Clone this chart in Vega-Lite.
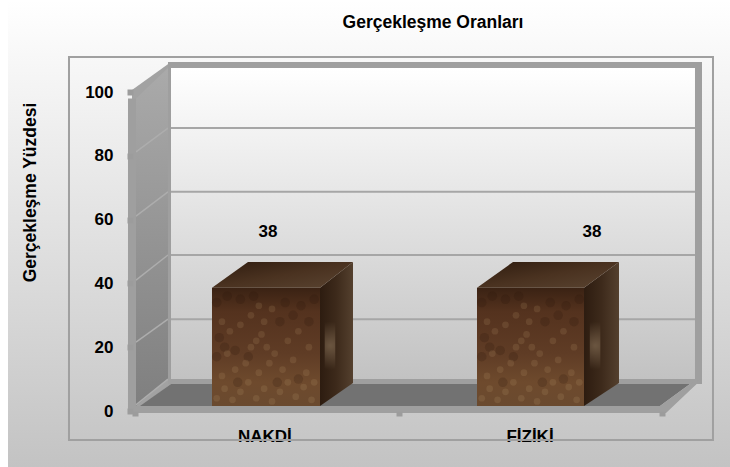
{
"$schema":"https://vega.github.io/schema/vega-lite/v6.json",
"width":527,"height":319,
"autosize":{"type":"none"},
"padding":{"left":135,"right":68,"top":92,"bottom":56},
"background":"white",
"config":{"view":{"stroke":null}},
"title":{"text":"Gerçekleşme Oranları","font":"Liberation Sans","fontSize":17.5,"fontWeight":"bold","color":"#000000","frame":"group","anchor":"middle","baseline":"alphabetic","dx":34.5,"offset":-45},
"encoding":{
 "x":{"field":"x","type":"quantitative","scale":{"domain":[0,2],"nice":false,"zero":false},
  "axis":{"values":[0,1,2],"labels":false,"domain":false,"grid":false,"title":null,"tickColor":"#9c9c9c","tickWidth":6,"tickSize":5,"zindex":1}},
 "y":{"field":"y","type":"quantitative","scale":{"domain":[0,100],"nice":false,"zero":false},
  "axis":{"values":[0,20,40,60,80,100],"domain":false,"grid":false,"offset":2,"tickColor":"#9c9c9c","tickWidth":6,"tickSize":6,"labelFont":"Liberation Sans","labelFontSize":17,"labelFontWeight":"bold","labelColor":"#000000","labelPadding":14,"title":"Gerçekleşme Yüzdesi","titleFont":"Liberation Sans","titleFontSize":17.5,"titleFontWeight":"bold","titleColor":"#000000","titleX":-94,"titleY":100,"zindex":1}}
},
"layer":[
 {"data":{"values":[{"x":-0.482,"x2":2.2581,"y":128.8,"y2":-17.55}]},
  "mark":{"type":"rect","color":{"gradient":"linear","x1":0,"y1":0,"x2":0,"y2":1,"stops":[{"offset":0,"color":"#ffffff"},{"offset":1,"color":"#c3c3c3"}]}},
  "encoding":{"x2":{"field":"x2"},"y2":{"field":"y2"}}},
 {"data":{"values":[{"x":0.1252,"x2":2.1252,"y":107.5,"y2":10}]},
  "mark":{"type":"rect","color":{"gradient":"linear","x1":0,"y1":0,"x2":0,"y2":1,"stops":[{"offset":0,"color":"#ffffff"},{"offset":1,"color":"#c2c2c2"}]}},
  "encoding":{"x2":{"field":"x2"},"y2":{"field":"y2"}}},
 {"data":{"values":[{"x":0.1366,"x2":2.1252,"y":88.7},{"x":0.1366,"x2":2.1252,"y":68.7},{"x":0.1366,"x2":2.1252,"y":48.9},{"x":0.1366,"x2":2.1252,"y":28.8}]},
  "mark":{"type":"rule","color":"#a6a6a6","strokeWidth":2},
  "encoding":{"x2":{"field":"x2"}}},
 {"data":{"values":[{"x":-0.0114,"y":100.6,"y2":-0.63},{"x":0.1366,"y":109.4,"y2":8.46}]},
  "mark":{"type":"area","color":"#a2a2a2"},
  "encoding":{"y2":{"field":"y2"}}},
 {"data":{"values":[{"x":0.0038,"y":98,"y2":1.57},{"x":0.1252,"y":107.5,"y2":10}]},
  "mark":{"type":"area","color":{"gradient":"linear","x1":0,"y1":0,"x2":0,"y2":1,"stops":[{"offset":0,"color":"#aaaaaa"},{"offset":1,"color":"#7f7f7f"}]}},
  "encoding":{"y2":{"field":"y2"}}},
 {"data":{"values":[{"x":0.0038,"x2":0.1252,"y":81.2,"y2":88.7},{"x":0.0038,"x2":0.1252,"y":61.1,"y2":68.7},{"x":0.0038,"x2":0.1252,"y":41,"y2":48.9},{"x":0.0038,"x2":0.1252,"y":21.6,"y2":28.8},{"x":0.0038,"x2":0.1252,"y":1.9,"y2":10}]},
  "mark":{"type":"rule","color":"#adadad","strokeWidth":1.5},
  "encoding":{"x2":{"field":"x2"},"y2":{"field":"y2"}}},
 {"data":{"values":[{"x":0.1252,"x2":2.1518,"y":107.5,"y2":109.4},{"x":2.1252,"x2":2.1518,"y":10,"y2":109.4},{"x":0.1252,"x2":2.1518,"y":8.46,"y2":10},{"x":0.1252,"x2":0.1366,"y":10,"y2":107.5},{"x":-0.0266,"x2":2.0152,"y":-0.63,"y2":1.57},{"x":-0.0266,"x2":0.0038,"y":-0.63,"y2":98}]},
  "mark":{"type":"rect","color":"#9f9f9f"},
  "encoding":{"x2":{"field":"x2"},"y2":{"field":"y2"}}},
 {"data":{"values":[{"x":0.019,"x2":1.9924,"y":1.57},{"x":0.1366,"x2":2.1063,"y":8.46}]},
  "mark":{"type":"area","orient":"horizontal","color":"#727272"},
  "encoding":{"x2":{"field":"x2"}}},
 {"data":{"values":[{"x":1.9924,"y":1.57,"y2":1.57},{"x":2.0152,"y":2.95,"y2":-0.63},{"x":2.1063,"y":8.46,"y2":6.49},{"x":2.1518,"y":10.03,"y2":10.03}]},
  "mark":{"type":"area","color":"#9f9f9f"},
  "encoding":{"y2":{"field":"y2"}}},
 {"data":{"values":[{"category":"NAKDİ","x":0.2922,"x2":0.7021,"y":38,"y2":1.57},{"category":"FİZİKİ","x":1.2979,"x2":1.704,"y":38,"y2":1.57}]},
  "mark":{"type":"rect","yOffset":-2,"color":{"gradient":"linear","x1":0,"y1":0,"x2":0,"y2":1,"stops":[{"offset":0,"color":"#3a2213"},{"offset":0.2,"color":"#54321e"},{"offset":0.55,"color":"#5f3c25"},{"offset":0.8,"color":"#6e4a2d"},{"offset":1,"color":"#6a4a2f"}]}},
  "encoding":{"x2":{"field":"x2"},"y2":{"field":"y2"}}},
 {"data":{"values":[{"x":0.31,"y":17},{"x":0.34,"y":20},{"x":0.32,"y":23},{"x":0.38,"y":19},{"x":0.55,"y":28},{"x":0.6,"y":30},{"x":0.63,"y":33},{"x":0.57,"y":34},{"x":0.66,"y":28},{"x":0.31,"y":34},{"x":0.35,"y":36},{"x":0.4,"y":35},{"x":0.68,"y":35},{"x":0.45,"y":36},{"x":0.43,"y":17},{"x":0.54,"y":9},{"x":0.39,"y":9},{"x":0.62,"y":10},{"x":1.316,"y":17},{"x":1.346,"y":20},{"x":1.326,"y":23},{"x":1.386,"y":19},{"x":1.556,"y":28},{"x":1.606,"y":30},{"x":1.636,"y":33},{"x":1.576,"y":34},{"x":1.666,"y":28},{"x":1.316,"y":34},{"x":1.356,"y":36},{"x":1.406,"y":35},{"x":1.686,"y":35},{"x":1.456,"y":36},{"x":1.436,"y":17},{"x":1.546,"y":9},{"x":1.396,"y":9},{"x":1.626,"y":10}]},
  "mark":{"type":"circle","size":90,"opacity":0.2,"color":"#2a140a"}},
 {"data":{"values":[{"x":0.31,"y":4},{"x":0.34,"y":7},{"x":0.37,"y":3.5},{"x":0.4,"y":6},{"x":0.43,"y":9},{"x":0.46,"y":4},{"x":0.49,"y":7},{"x":0.52,"y":3},{"x":0.55,"y":6},{"x":0.58,"y":9},{"x":0.61,"y":4.5},{"x":0.64,"y":7.5},{"x":0.67,"y":3.5},{"x":0.33,"y":11},{"x":0.38,"y":13},{"x":0.42,"y":15},{"x":0.47,"y":12},{"x":0.51,"y":15},{"x":0.56,"y":13},{"x":0.6,"y":16},{"x":0.65,"y":12},{"x":0.68,"y":9},{"x":0.35,"y":18},{"x":0.44,"y":20},{"x":0.48,"y":24},{"x":0.49,"y":28},{"x":0.46,"y":22},{"x":0.5,"y":20},{"x":0.53,"y":18},{"x":0.58,"y":22},{"x":0.62,"y":25},{"x":0.4,"y":27},{"x":0.36,"y":25},{"x":0.52,"y":32},{"x":0.47,"y":33},{"x":0.44,"y":30},{"x":0.33,"y":28},{"x":0.66,"y":20},{"x":1.316,"y":4},{"x":1.346,"y":7},{"x":1.376,"y":3.5},{"x":1.406,"y":6},{"x":1.436,"y":9},{"x":1.466,"y":4},{"x":1.496,"y":7},{"x":1.526,"y":3},{"x":1.556,"y":6},{"x":1.586,"y":9},{"x":1.616,"y":4.5},{"x":1.646,"y":7.5},{"x":1.676,"y":3.5},{"x":1.336,"y":11},{"x":1.386,"y":13},{"x":1.426,"y":15},{"x":1.476,"y":12},{"x":1.516,"y":15},{"x":1.566,"y":13},{"x":1.606,"y":16},{"x":1.656,"y":12},{"x":1.686,"y":9},{"x":1.356,"y":18},{"x":1.446,"y":20},{"x":1.486,"y":24},{"x":1.496,"y":28},{"x":1.466,"y":22},{"x":1.506,"y":20},{"x":1.536,"y":18},{"x":1.586,"y":22},{"x":1.626,"y":25},{"x":1.406,"y":27},{"x":1.366,"y":25},{"x":1.526,"y":32},{"x":1.476,"y":33},{"x":1.446,"y":30},{"x":1.336,"y":28},{"x":1.666,"y":20}]},
  "mark":{"type":"circle","size":45,"opacity":0.15,"color":"#c9a67a"}},
 {"data":{"values":[{"bar":"a","x":0.7021,"y":38.6,"y2":1.57},{"bar":"a","x":0.8273,"y":46.7,"y2":8.78},{"bar":"b","x":1.704,"y":38.6,"y2":1.57},{"bar":"b","x":1.8368,"y":46.7,"y2":8.78}]},
  "mark":{"type":"area","color":{"gradient":"linear","x1":0,"y1":0,"x2":1,"y2":0,"stops":[{"offset":0,"color":"#2d1c10"},{"offset":0.5,"color":"#3d2a1b"},{"offset":1,"color":"#54402e"}]}},
  "encoding":{"y2":{"field":"y2"},"detail":{"field":"bar"}}},
 {"data":{"values":[{"x":0.72,"x2":0.76,"y":13,"y2":28},{"x":1.726,"x2":1.766,"y":13,"y2":28}]},
  "mark":{"type":"rect","color":{"gradient":"radial","x1":0.5,"y1":0.5,"r1":0,"x2":0.5,"y2":0.5,"r2":0.5,"stops":[{"offset":0,"color":"rgba(170,145,115,0.45)"},{"offset":1,"color":"rgba(170,145,115,0)"}]}},
  "encoding":{"x2":{"field":"x2"},"y2":{"field":"y2"}}},
 {"data":{"values":[{"bar":"a","x":0.2922,"x2":0.7021,"y":38.6},{"bar":"a","x":0.4288,"x2":0.8273,"y":46.7},{"bar":"b","x":1.2979,"x2":1.704,"y":38.6},{"bar":"b","x":1.4345,"x2":1.8368,"y":46.7}]},
  "mark":{"type":"area","orient":"horizontal","color":{"gradient":"linear","x1":0,"y1":0,"x2":1,"y2":1,"stops":[{"offset":0,"color":"#2f1c0f"},{"offset":0.5,"color":"#4a3220"},{"offset":1,"color":"#5a4431"}]}},
  "encoding":{"x2":{"field":"x2"},"detail":{"field":"bar"}}},
 {"data":{"values":[{"x":0.505,"y":38,"value":"38"},{"x":1.734,"y":38,"value":"38"}]},
  "mark":{"type":"text","font":"Liberation Sans","fontSize":17,"fontWeight":"bold","color":"#000000","baseline":"middle","dy":-58},
  "encoding":{"text":{"field":"value"}}},
 {"data":{"values":[{"x":0.493,"y":0,"category":"NAKDİ"},{"x":1.4991,"y":0,"category":"FİZİKİ"}]},
  "mark":{"type":"text","font":"Liberation Sans","fontSize":17,"fontWeight":"bold","color":"#000000","baseline":"alphabetic","dy":31},
  "encoding":{"text":{"field":"category"}}},
 {"data":{"values":[{"x":-0.2505,"x2":2.1935,"y":111,"y2":-9.09}]},
  "mark":{"type":"rect","fillOpacity":0,"fill":"#ffffff","stroke":"#a0a0a0","strokeWidth":2},
  "encoding":{"x2":{"field":"x2"},"y2":{"field":"y2"}}}
]
}
